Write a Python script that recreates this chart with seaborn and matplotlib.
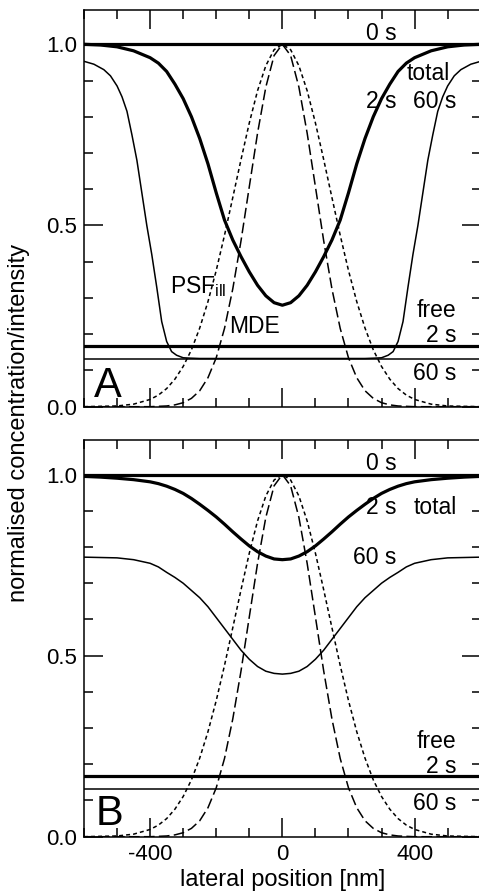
import matplotlib
matplotlib.use("Agg")
import matplotlib.pyplot as plt
from matplotlib.ticker import MultipleLocator
import seaborn as sns

# lateral position grid [nm] shared by the bell-shaped curves
x_grid = [-600, -550, -500, -450, -400, -375, -350, -325, -300, -275, -250, -225,
          -200, -175, -150, -125, -100, -75, -50, -25, 0,
          25, 50, 75, 100, 125, 150, 175, 200, 225, 250, 275, 300, 325, 350,
          375, 400, 450, 500, 550, 600]

# illumination PSF (dotted) and molecule detection efficiency (dashed)
psf_ill = [0.000, 0.001, 0.002, 0.007, 0.020, 0.032, 0.050, 0.076, 0.111, 0.157, 0.217, 0.290,
           0.376, 0.473, 0.577, 0.682, 0.783, 0.872, 0.941, 0.985, 1.000,
           0.985, 0.941, 0.872, 0.783, 0.682, 0.577, 0.473, 0.376, 0.290, 0.217, 0.157, 0.111, 0.076, 0.050,
           0.032, 0.020, 0.007, 0.002, 0.001, 0.000]
mde = [0.000, 0.000, 0.000, 0.000, 0.000, 0.001, 0.002, 0.005, 0.011, 0.023, 0.044, 0.080,
       0.135, 0.216, 0.325, 0.458, 0.607, 0.755, 0.882, 0.969, 1.000,
       0.969, 0.882, 0.755, 0.607, 0.458, 0.325, 0.216, 0.135, 0.080, 0.044, 0.023, 0.011, 0.005, 0.002,
       0.001, 0.000, 0.000, 0.000, 0.000, 0.000]

# panel A, total concentration after 2 s
total_2s_a = [1.000, 0.998, 0.993, 0.982, 0.963, 0.948, 0.925, 0.890, 0.850, 0.800, 0.740, 0.670,
              0.590, 0.515, 0.460, 0.414, 0.372, 0.335, 0.306, 0.287, 0.280,
              0.287, 0.306, 0.335, 0.372, 0.414, 0.460, 0.515, 0.590, 0.670, 0.740, 0.800, 0.850, 0.890, 0.925,
              0.948, 0.963, 0.982, 0.993, 0.998, 1.000]

# panel A, total concentration after 60 s (own, denser grid)
x_60s_a = [-600, -570, -540, -520, -500, -485, -470, -455, -440, -425, -410, -395, -380,
           -365, -350, -335, -320, -300, -280, -250, 0, 250, 280, 300, 320, 335, 350,
           365, 380, 395, 410, 425, 440, 455, 470, 485, 500, 520, 540, 570, 600]
total_60s_a = [0.953, 0.945, 0.930, 0.913, 0.885, 0.855, 0.815, 0.750, 0.680, 0.590, 0.500, 0.420, 0.330,
               0.235, 0.180, 0.152, 0.142, 0.135, 0.134, 0.133, 0.133, 0.133, 0.134, 0.135, 0.142, 0.152, 0.180,
               0.235, 0.330, 0.420, 0.500, 0.590, 0.680, 0.750, 0.815, 0.855, 0.885, 0.913, 0.930, 0.945, 0.953]

# panel B, total concentration after 2 s and 60 s
total_2s_b = [0.995, 0.993, 0.990, 0.986, 0.980, 0.975, 0.968, 0.959, 0.948, 0.934, 0.918, 0.901,
              0.883, 0.863, 0.842, 0.822, 0.803, 0.787, 0.775, 0.767, 0.765,
              0.767, 0.775, 0.787, 0.803, 0.822, 0.842, 0.863, 0.883, 0.901, 0.918, 0.934, 0.948, 0.959, 0.968,
              0.975, 0.980, 0.986, 0.990, 0.993, 0.995]
total_60s_b = [0.772, 0.771, 0.770, 0.765, 0.755, 0.745, 0.730, 0.716, 0.700, 0.680, 0.660, 0.635,
               0.605, 0.575, 0.545, 0.515, 0.490, 0.470, 0.457, 0.451, 0.449,
               0.451, 0.457, 0.470, 0.490, 0.515, 0.545, 0.575, 0.605, 0.635, 0.660, 0.680, 0.700, 0.716, 0.730,
               0.745, 0.755, 0.765, 0.770, 0.771, 0.772]

# flat levels: 0 s total, free fraction at 2 s and 60 s
level_0s = 1.0
free_2s = 0.167
free_60s = 0.132

x_ticks = [-400, 0, 400]
y_ticks = [0.0, 0.5, 1.0]

sns.set_style("ticks")
plt.rcParams["font.family"] = ["Liberation Sans", "DejaVu Sans"]
plt.rcParams["mathtext.fontset"] = "custom"
plt.rcParams["mathtext.rm"] = "Liberation Sans"
plt.rcParams["mathtext.it"] = "Liberation Sans:italic"
for key in ["text.color", "axes.labelcolor", "xtick.color", "ytick.color", "axes.edgecolor"]:
    plt.rcParams[key] = "black"

THICK = 2.3
THIN = 1.1
DOTTED = (0, (2.6, 2.0))
DASHED = (0, (7.0, 2.8))

fig = plt.figure(figsize=(4.79, 8.96), dpi=100)
ax_a = fig.add_axes([0.17537, 0.5461, 0.8282, 0.4431])
ax_b = fig.add_axes([0.17537, 0.06618, 0.8282, 0.44275])


def style_axes(ax, show_xlabels):
    ax.set_xlim(-600, 600)
    ax.set_ylim(0, 1.0955)
    ax.xaxis.set_major_locator(MultipleLocator(400))
    ax.xaxis.set_minor_locator(MultipleLocator(100))
    ax.yaxis.set_major_locator(MultipleLocator(0.5))
    ax.yaxis.set_minor_locator(MultipleLocator(0.1))
    ax.set_yticks(y_ticks)
    ax.set_yticklabels([f"{v:.1f}" for v in y_ticks])
    ax.set_xticks(x_ticks)
    if show_xlabels:
        ax.set_xticklabels([str(v) for v in x_ticks])
    else:
        ax.set_xticklabels([])
    ax.tick_params(which="both", direction="in", top=True, right=True,
                   color="black", labelcolor="black", width=1.1, labelsize=16)
    ax.tick_params(which="major", length=14, pad=5)
    ax.tick_params(which="minor", length=6.5)
    ax.tick_params(axis="x", which="major", pad=5)
    for s in ax.spines.values():
        s.set_linewidth(1.1)
        s.set_color("black")
    ax.set_xlabel("")
    ax.set_ylabel("")


def draw_common(ax):
    ax.axhline(level_0s, color="black", lw=THICK)
    ax.axhline(free_2s, color="black", lw=THICK)
    ax.axhline(free_60s, color="black", lw=THIN)
    sns.lineplot(x=x_grid, y=psf_ill, ax=ax, color="black", lw=THIN,
                 linestyle=DOTTED, estimator=None, sort=False)
    sns.lineplot(x=x_grid, y=mde, ax=ax, color="black", lw=THIN,
                 linestyle=DASHED, estimator=None, sort=False)


# panel A
draw_common(ax_a)
sns.lineplot(x=x_grid, y=total_2s_a, ax=ax_a, color="black", lw=THICK,
             estimator=None, sort=False)
sns.lineplot(x=x_60s_a, y=total_60s_a, ax=ax_a, color="black", lw=THIN,
             estimator=None, sort=False)
style_axes(ax_a, False)

fs = 16.5
ax_a.text(300, 1.031, "0 s", fontsize=fs, ha="center", va="center")
ax_a.text(440, 0.92, "total", fontsize=fs, ha="center", va="center")
ax_a.text(298, 0.842, "2 s", fontsize=fs, ha="center", va="center")
ax_a.text(460, 0.842, "60 s", fontsize=fs, ha="center", va="center")
ax_a.text(-341, 0.313, r"PSF$_{\mathrm{ill}}$", fontsize=fs, ha="left", va="baseline")
ax_a.text(-160, 0.2025, "MDE", fontsize=fs, ha="left", va="baseline")
ax_a.text(527, 0.248, "free", fontsize=fs, ha="right", va="baseline")
ax_a.text(527, 0.179, "2 s", fontsize=fs, ha="right", va="baseline")
ax_a.text(527, 0.074, "60 s", fontsize=fs, ha="right", va="baseline")
ax_a.text(-569, 0.0276, "A", fontsize=30, ha="left", va="baseline")

# panel B
draw_common(ax_b)
sns.lineplot(x=x_grid, y=total_2s_b, ax=ax_b, color="black", lw=THICK,
             estimator=None, sort=False)
sns.lineplot(x=x_grid, y=total_60s_b, ax=ax_b, color="black", lw=THIN,
             estimator=None, sort=False)
style_axes(ax_b, True)

ax_b.text(300, 1.031, "0 s", fontsize=fs, ha="center", va="center")
ax_b.text(298, 0.908, "2 s", fontsize=fs, ha="center", va="center")
ax_b.text(461, 0.908, "total", fontsize=fs, ha="center", va="center")
ax_b.text(279, 0.770, "60 s", fontsize=fs, ha="center", va="center")
ax_b.text(527, 0.244, "free", fontsize=fs, ha="right", va="baseline")
ax_b.text(527, 0.175, "2 s", fontsize=fs, ha="right", va="baseline")
ax_b.text(527, 0.074, "60 s", fontsize=fs, ha="right", va="baseline")
ax_b.text(-564, 0.032, "B", fontsize=30, ha="left", va="baseline")

fig.text(283 / 479, 1 - 886 / 896, "lateral position [nm]", fontsize=17,
         ha="center", va="baseline")
fig.text(19 / 479, 1 - 422.5 / 896, "normalised concentration/intensity",
         fontsize=17, ha="center", va="center", rotation=90)

fig.savefig("out.png", dpi=100)
